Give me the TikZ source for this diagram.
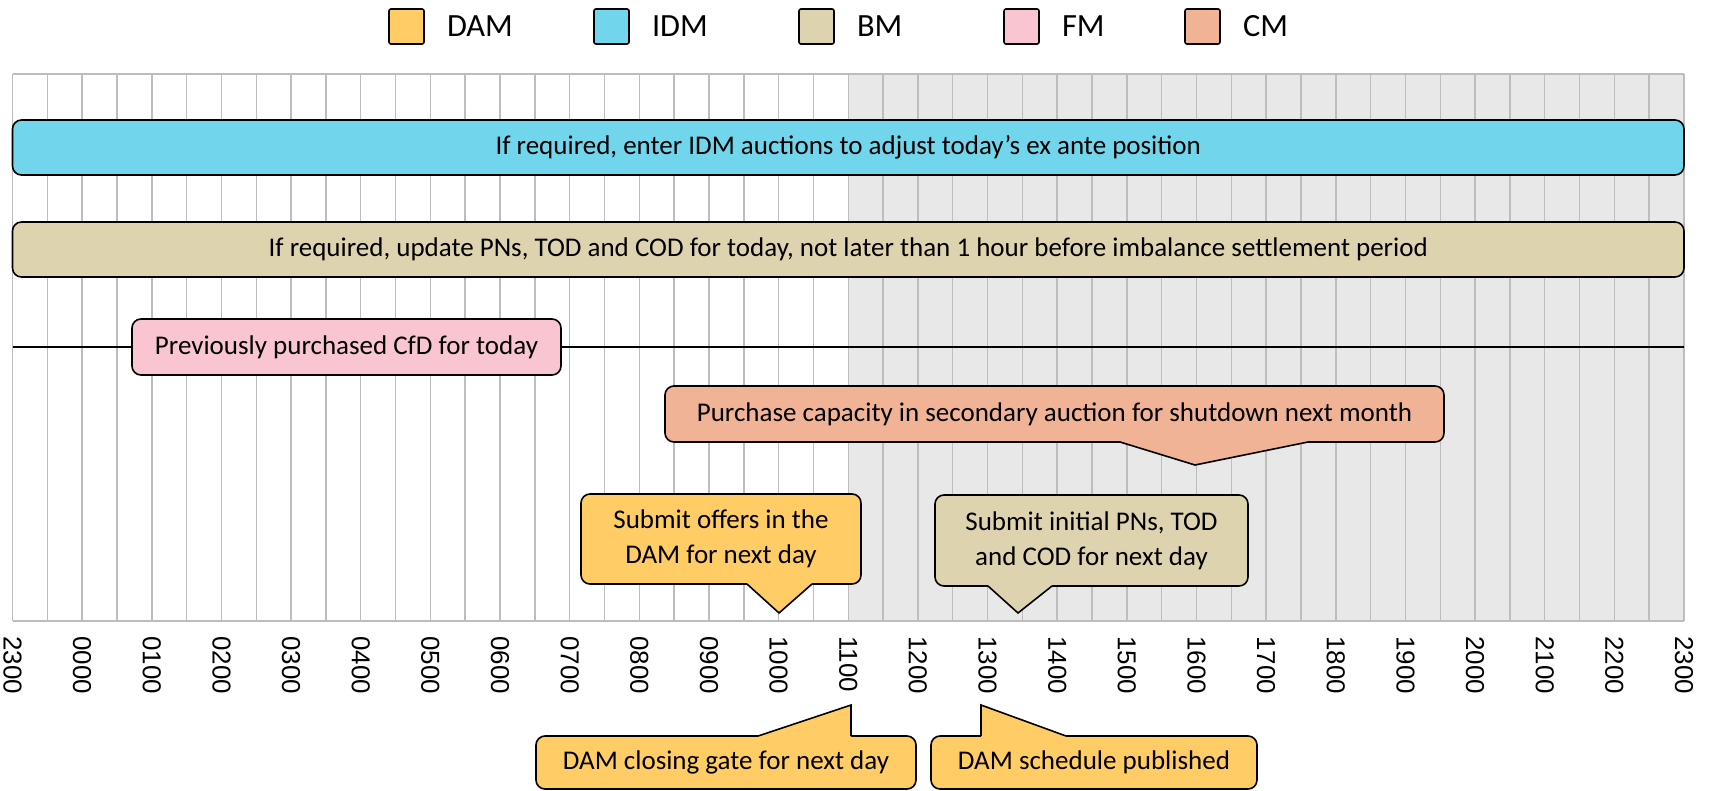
\documentclass[tikz,border=0pt]{standalone}
\usepackage{fontspec}
\setmainfont{Carlito}
\newfontfamily\axisfont{Liberation Sans}
\usetikzlibrary{positioning}

\definecolor{damc}{HTML}{FFCC66}
\definecolor{idmc}{HTML}{71D5EB}
\definecolor{bmc}{HTML}{DED3AF}
\definecolor{fmc}{HTML}{F9C5D0}
\definecolor{cmc}{HTML}{F0B396}
\definecolor{shadec}{HTML}{E8E8E8}
\definecolor{gridc}{HTML}{BDBDBD}

\begin{document}
\begin{tikzpicture}[x=1bp,y=-1bp,
  gridline/.style={draw=gridc, line width=1.5bp},
  boxfont/.style={font=\fontsize{27.1}{35}\selectfont},
  bar/.style={draw=black, line width=1.6bp, rounded corners=9bp, inner sep=0pt, boxfont},
  pointer/.style={draw=black, line width=1.6bp, line join=miter},
  legsq/.style={draw=black, line width=1.6bp, rounded corners=2bp, minimum width=35bp, minimum height=35bp, inner sep=0pt},
  legtext/.style={inner sep=0pt, font=\fontsize{32.5}{36}\selectfont},
  axislabel/.style={rotate=-90, anchor=west, inner sep=0pt, font=\axisfont\fontsize{26}{30}\selectfont}
]
\useasboundingbox (0,0) rectangle (1709,791);

% legend
\node[legsq, fill=damc] (lgdam) at (406.5,26.5) {};
\node[legtext, right=22bp of lgdam] (lgdamt) {DAM};
\node[legsq, fill=idmc] (lgidm) at (611.5,26.5) {};
\node[legtext, right=22bp of lgidm] (lgidmt) {IDM};
\node[legsq, fill=bmc] (lgbm) at (816.5,26.5) {};
\node[legtext, right=22bp of lgbm] (lgbmt) {BM};
\node[legsq, fill=fmc] (lgfm) at (1021.5,26.5) {};
\node[legtext, right=22bp of lgfm] (lgfmt) {FM};
\node[legsq, fill=cmc] (lgcm) at (1202.5,26.5) {};
\node[legtext, right=22bp of lgcm] (lgcmt) {CM};

% half-hour grid, afternoon shaded
\fill[shadec] (848.4,74) rectangle (1684,621);
\foreach \i in {0,...,48}
  \draw[gridline] ({12.5+\i*34.823},74) -- ({12.5+\i*34.823},621);
\draw[gridline] (12.5,74) -- (1684,74);
\draw[gridline] (12.5,621) -- (1684,621);

% hour labels
\foreach \t [count=\k from 0] in {2300,0000,0100,0200,0300,0400,0500,0600,0700,0800,0900,1000,1100,1200,1300,1400,1500,1600,1700,1800,1900,2000,2100,2200,2300}
  \node[axislabel] (t\k) at ({12.5+\k*69.646},636) {\t};

% full-day bars
\node[bar, fill=idmc, minimum width=1671.5bp, minimum height=55bp] (idm) at (848.25,147.5)
  {If required, enter IDM auctions to adjust today’s ex ante position};
\node[bar, fill=bmc, minimum width=1671.5bp, minimum height=55bp] (bm) at (848.25,249.5)
  {If required, update PNs, TOD and COD for today, not later than 1 hour before imbalance settlement period};

% forward contract line
\coordinate (fmL) at (12.5,347);
\coordinate (fmR) at (1684,347);
\draw[black, line width=1.6bp] (fmL) -- (fmR);
\node[bar, fill=fmc, minimum width=429bp, minimum height=56bp] (fm) at (346.5,347)
  {Previously purchased CfD for today};

% capacity market callout
\node[bar, fill=cmc, minimum width=779bp, minimum height=56bp] (cm) at (1054.5,414)
  {Purchase capacity in secondary auction for shutdown next month};
\coordinate (cmA) at (1120,442);
\coordinate (cmTip) at (1195,465);
\coordinate (cmB) at (1308,442);
\fill[cmc] (1120,440) -- (cmA) -- (cmTip) -- (cmB) -- (1308,440) -- cycle;
\draw[pointer] (cmA) -- (cmTip) -- (cmB);

% day-ahead offers callout
\node[bar, fill=damc, minimum width=280bp, minimum height=90bp, align=center] (dsub) at (721,539)
  {Submit offers in the\\DAM for next day};
\coordinate (dsubA) at (747,584);
\coordinate (dsubTip) at (779,613);
\coordinate (dsubB) at (812,584);
\fill[damc] (747,582) -- (dsubA) -- (dsubTip) -- (dsubB) -- (812,582) -- cycle;
\draw[pointer] (dsubA) -- (dsubTip) -- (dsubB);

% balancing notifications callout
\node[bar, fill=bmc, minimum width=313bp, minimum height=91bp, align=center] (bsub) at (1091.5,540.5)
  {Submit initial PNs, TOD\\and COD for next day};
\coordinate (bsubA) at (988,586);
\coordinate (bsubTip) at (1018,613);
\coordinate (bsubB) at (1052,586);
\fill[bmc] (988,584) -- (bsubA) -- (bsubTip) -- (bsubB) -- (1052,584) -- cycle;
\draw[pointer] (bsubA) -- (bsubTip) -- (bsubB);

% gate closure callout
\node[bar, fill=damc, minimum width=380bp, minimum height=53bp] (dgate) at (726,762.5)
  {DAM closing gate for next day};
\coordinate (dgateA) at (758,736);
\coordinate (dgateTip) at (851,705);
\coordinate (dgateB) at (851,736);
\fill[damc] (758,738) -- (dgateA) -- (dgateTip) -- (dgateB) -- (851,738) -- cycle;
\draw[pointer] (dgateA) -- (dgateTip) -- (dgateB);

% schedule publication callout
\node[bar, fill=damc, minimum width=326bp, minimum height=53bp] (dpub) at (1094,762.5)
  {DAM schedule published};
\coordinate (dpubA) at (981,736);
\coordinate (dpubTip) at (981,705);
\coordinate (dpubB) at (1066,736);
\fill[damc] (981,738) -- (dpubA) -- (dpubTip) -- (dpubB) -- (1066,738) -- cycle;
\draw[pointer] (dpubA) -- (dpubTip) -- (dpubB);

\end{tikzpicture}
\end{document}
